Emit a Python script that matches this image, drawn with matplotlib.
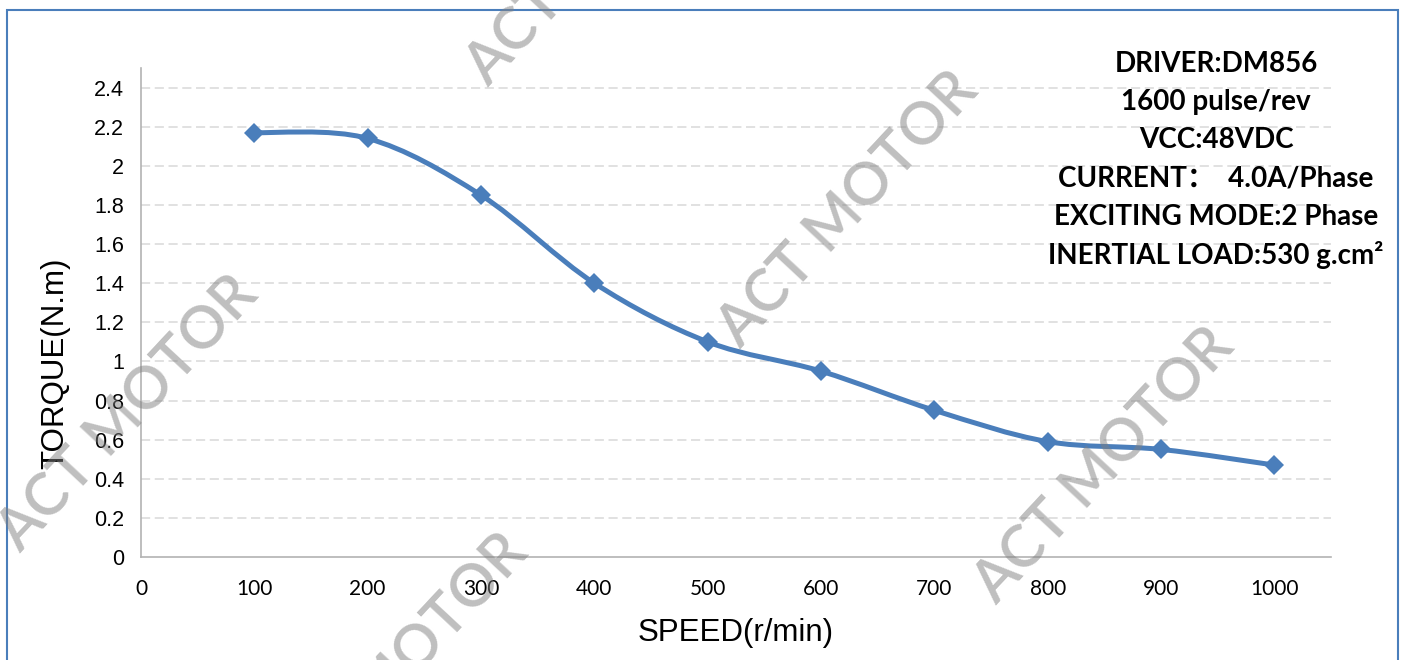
import matplotlib.pyplot as plt
from matplotlib.patches import PathPatch, Rectangle
from matplotlib.path import Path

speed = [100, 200, 300, 400, 500, 600, 700, 800, 900, 1000]
torque = [2.17, 2.14, 1.85, 1.40, 1.10, 0.95, 0.75, 0.59, 0.55, 0.47]
y_ticks = [0, 0.2, 0.4, 0.6, 0.8, 1, 1.2, 1.4, 1.6, 1.8, 2, 2.2, 2.4]
y_tick_labels = ["0", "0.2", "0.4", "0.6", "0.8", "1", "1.2", "1.4", "1.6", "1.8", "2", "2.2", "2.4"]
x_ticks = [0, 100, 200, 300, 400, 500, 600, 700, 800, 900, 1000]
info_lines = [
    "DRIVER:DM856",
    "1600 pulse/rev",
    "VCC:48VDC",
    "CURRENT\uff1a  4.0A/Phase",
    "EXCITING MODE:2 Phase",
    "INERTIAL LOAD:530 g.cm\u00b2",
]
watermark = "ACT MOTOR"

BLUE = "#4a7ebb"
W, H = 1406, 660


def smooth_path(xs, ys):
    # Excel-style smoothed line: Catmull-Rom turned into cubic Bezier segments
    pts = list(zip(xs, ys))
    verts = [pts[0]]
    codes = [Path.MOVETO]
    for i in range(len(pts) - 1):
        p0 = pts[i - 1] if i > 0 else pts[i]
        p1 = pts[i]
        p2 = pts[i + 1]
        p3 = pts[i + 2] if i + 2 < len(pts) else pts[i + 1]
        c1 = (p1[0] + (p2[0] - p0[0]) / 6, p1[1] + (p2[1] - p0[1]) / 6)
        c2 = (p2[0] - (p3[0] - p1[0]) / 6, p2[1] - (p3[1] - p1[1]) / 6)
        verts += [c1, c2, p2]
        codes += [Path.CURVE4] * 3
    return Path(verts, codes)


fig = plt.figure(figsize=(W / 100, H / 100), dpi=100)
ax = fig.add_axes([141 / W, 1 - 557 / H, (1331 - 141) / W, (557 - 68) / H])

ax.set_xlim(0, 1050)
ax.set_ylim(0, 2.5)
ax.set_yticks(y_ticks)
ax.set_yticklabels(y_tick_labels, family="Liberation Sans", fontsize=15.5)
ax.set_xticks(x_ticks)
ax.set_xticklabels([str(v) for v in x_ticks], family="Lato", fontsize=15)
ax.tick_params(length=0)
ax.tick_params(axis="y", pad=12)
ax.tick_params(axis="x", pad=16)

for v in y_ticks[1:]:
    ax.axhline(v, color="#d9d9d9", lw=1.1, dashes=(6, 3), zorder=1)
for side in ["top", "right"]:
    ax.spines[side].set_visible(False)
for side in ["left", "bottom"]:
    ax.spines[side].set_color("#b3b3b3")
    ax.spines[side].set_linewidth(1.2)

ax.add_patch(PathPatch(smooth_path(speed, torque), fill=False, edgecolor=BLUE,
                       lw=3.6, capstyle="round", joinstyle="round", zorder=3))
ax.plot(speed, torque, linestyle="none", marker="D", markersize=10,
        color=BLUE, markeredgewidth=0, zorder=4)

ax.set_xlabel("SPEED(r/min)", family="Liberation Sans", fontsize=22.5)
ax.xaxis.set_label_coords(0.5, (557 - 633) / 489)
ax.xaxis.label.set_va("center")
ax.set_ylabel("TORQUE(N.m)", family="Liberation Sans", fontsize=22.5)
ax.yaxis.set_label_coords((55 - 141) / 1190, (557 - 363) / 489)
ax.yaxis.label.set_va("center")

for i, line in enumerate(info_lines):
    fig.text(1216 / W, 1 - (64 + 38.2 * i) / H, line, ha="center", va="center",
             family=["Lato", "Noto Sans CJK SC"], fontweight="bold", fontsize=20)

# frame around the chart
fig.add_artist(Rectangle((7 / W, -0.05), (1398 - 7) / W, 1.05 - 10 / H,
                         transform=fig.transFigure, fill=False,
                         edgecolor=BLUE, lw=1.5, zorder=0))

# watermarks
for cx, cy in [(848, 210), (1104, 466), (128, 414), (596, -52), (398, 672), (1516, 570)]:
    fig.text(cx / W, 1 - cy / H, watermark, ha="center", va="center",
             rotation=47, rotation_mode="anchor", family="Lato", fontweight="semibold",
             fontsize=42.5, color="#808080", alpha=0.5, zorder=10)

fig.savefig("out.png", dpi=100)
